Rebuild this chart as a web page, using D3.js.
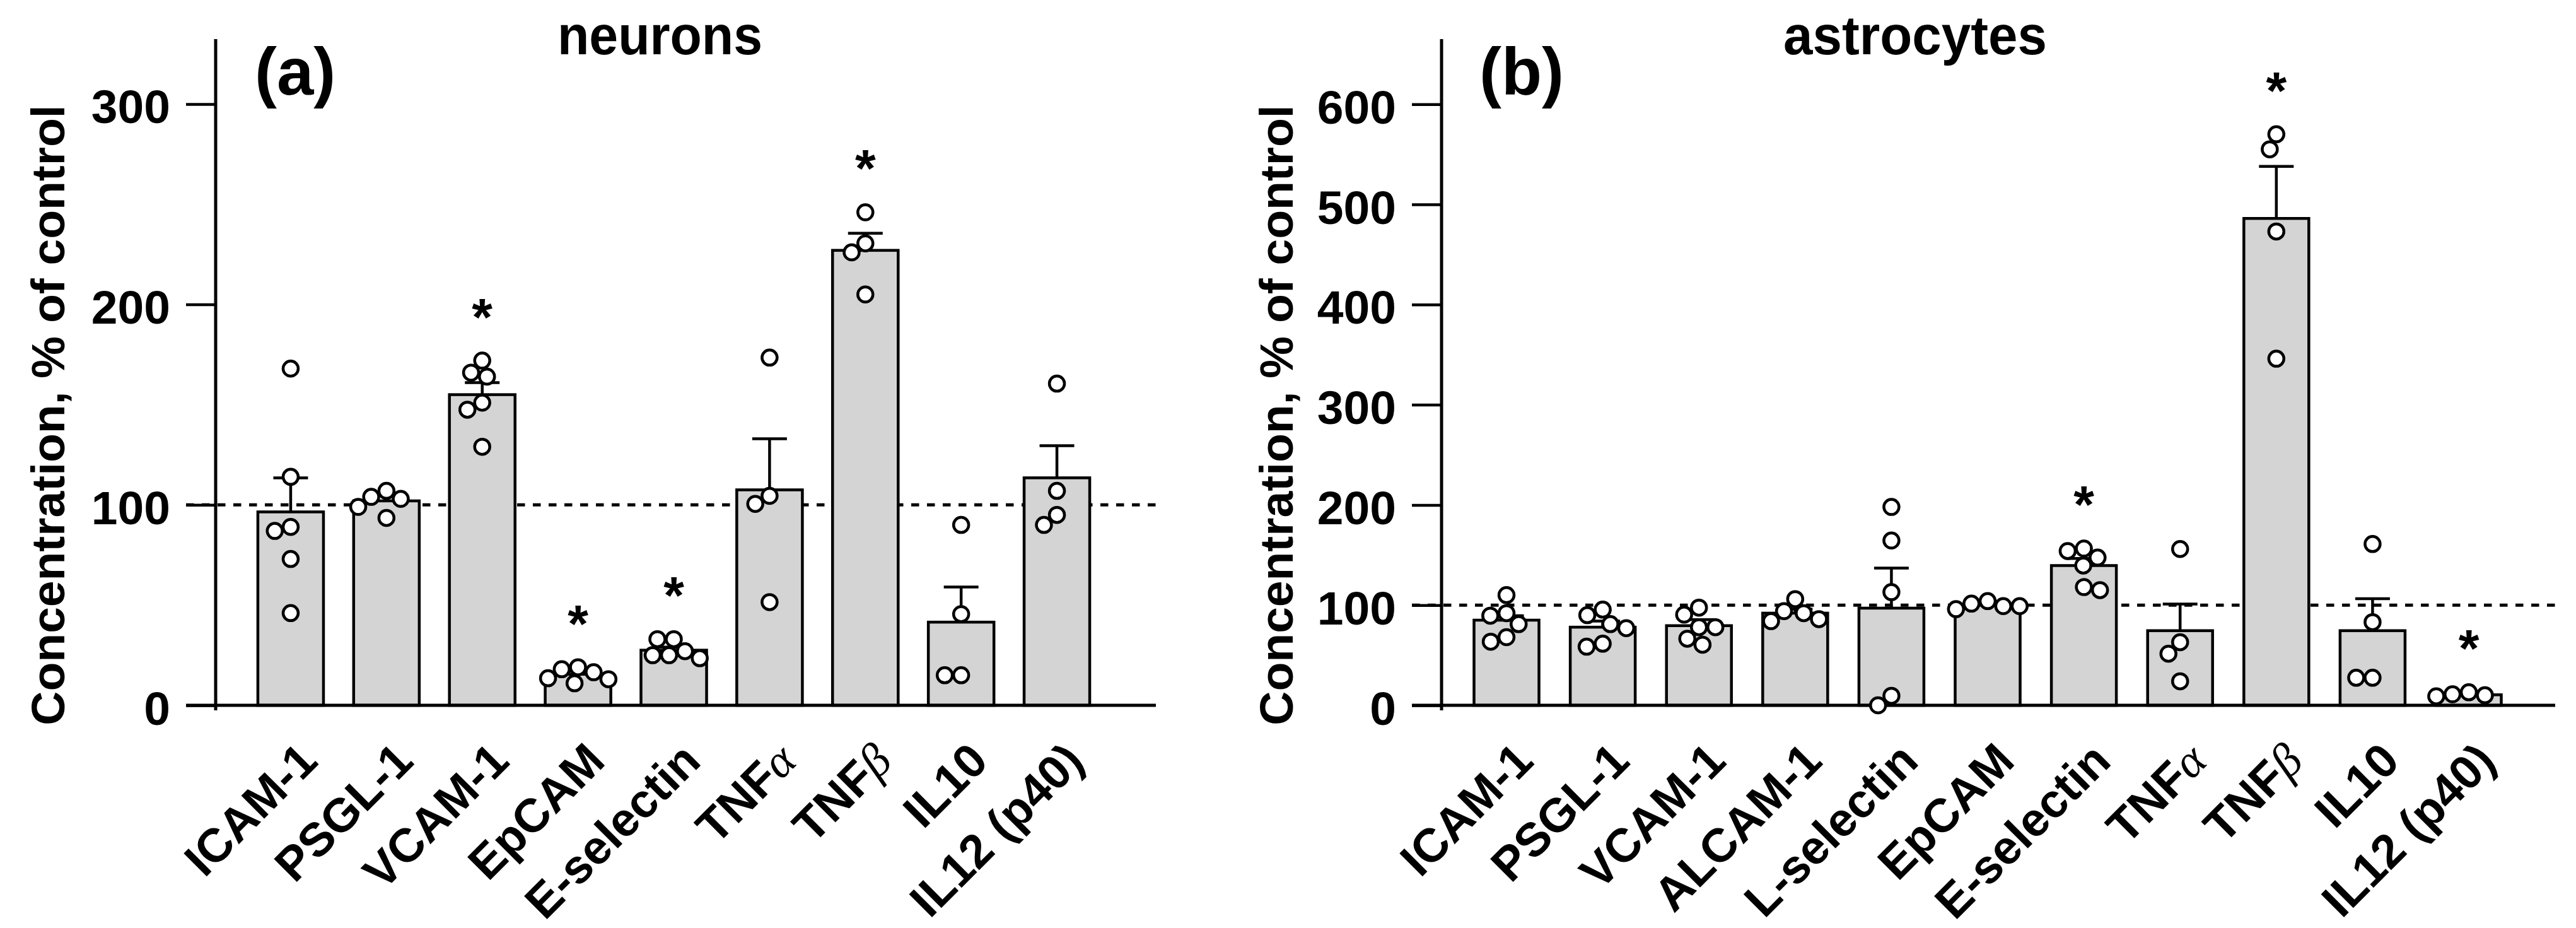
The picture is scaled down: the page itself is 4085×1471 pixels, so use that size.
<!DOCTYPE html>
<html>
<head>
<meta charset="utf-8">
<script src="https://cdn.jsdelivr.net/npm/d3@7"></script>
<style>
  html, body { margin: 0; padding: 0; background: #fff; }
  svg { display: block; }
</style>
</head>
<body>
<svg id="chart" width="4085" height="1471"></svg>
<script>
// ---------------- DATA ----------------
// (a) neurons
const neuronsCategories = ["ICAM-1", "PSGL-1", "VCAM-1", "EpCAM", "E-selectin", "TNFα", "TNFβ", "IL10", "IL12 (p40)"];
const neuronsMeans = [96.5, 102, 155, 15.5, 27.5, 107.5, 227, 41.5, 113.5];
const neuronsSEM = [17, 2.5, 6, 1.5, 1.5, 25.5, 8.5, 17.5, 16];
const neuronsPoints = [
  [168, 114, 89, 87, 73, 46],
  [99, 104, 107, 103, 93.5],
  [172, 166, 164, 151, 147.5, 129],
  [18, 19, 16.5, 13, 13.5, 11],
  [33, 33, 25, 25, 23.5, 27],
  [173.5, 104.5, 100.5, 51.5],
  [246, 230.5, 226, 205],
  [90, 45.5, 15, 15],
  [160.5, 107, 95, 90]
];
const neuronsSignificant = [false, false, true, true, true, false, true, false, false];
const neuronsTicks = [0, 100, 200, 300];

// (b) astrocytes
const astroCategories = ["ICAM-1", "PSGL-1", "VCAM-1", "ALCAM-1", "L-selectin", "EpCAM", "E-selectin", "TNFα", "TNFβ", "IL10", "IL12 (p40)"];
const astroMeans = [85, 78, 79.5, 92, 97, 100, 139.5, 74.5, 486, 74.5, 10.5];
const astroSEM = [4.5, 6, 6, 4, 40, 1.5, 7, 26.5, 52, 32, 1.2];
const astroPoints = [
  [110, 92, 89.5, 81, 68, 63.5],
  [95.5, 90, 81, 77, 61.5, 58.5],
  [97.5, 90.5, 78, 78, 66.5, 60.5],
  [106, 94, 92, 86, 84],
  [198, 164.5, 113, 9.5, 0],
  [104, 101.5, 99, 99, 96],
  [156.5, 154, 147.5, 139.5, 118, 115],
  [156, 63, 51.5, 24],
  [570, 555, 473, 346],
  [161, 83, 27.5, 27.5],
  [13, 11, 10, 9]
];
const astroSignificant = [false, false, false, false, false, false, true, false, true, false, true];
const astroTicks = [0, 100, 200, 300, 400, 500, 600];

const referenceLevel = 100;
const yTitle = "Concentration, % of control";

// ---------------- LAYOUT ----------------
const FONT = "'Liberation Sans', Arial, Helvetica, sans-serif";
const GREEK_FONT = "'Liberation Serif', 'DejaVu Serif', 'Times New Roman', serif";
const panels = [
  { letter: "(a)", title: "neurons", cats: neuronsCategories, means: neuronsMeans, sem: neuronsSEM,
    points: neuronsPoints, sig: neuronsSignificant, ticks: neuronsTicks,
    axisX: 342, axisEnd: 1833, yTop: 62, yZero: 1118, yMax: 332.4,
    band: [385, 1752], padIn: 0.315, padOut: 0.1575,
    letterX: 404, titleX: 884, titleLen: 325, yTitleX: 102 },
  { letter: "(b)", title: "astrocytes", cats: astroCategories, means: astroMeans, sem: astroSEM,
    points: astroPoints, sig: astroSignificant, ticks: astroTicks,
    axisX: 2286, axisEnd: 4052, yTop: 62, yZero: 1118, yMax: 665,
    band: [2312.7, 3991.3], padIn: 0.325, padOut: 0.1625,
    letterX: 2346, titleX: 2828, titleLen: 418, yTitleX: 2050 }
];

const svg = d3.select("#chart");
const R = 12, MIN_D = 26, TICK = 47;

// simple beeswarm: offsets closest to centre without overlap
function swarm(values, y) {
  const order = values.map((v, i) => i).sort((a, b) => values[b] - values[a]);
  const placed = [];
  const off = new Array(values.length).fill(0);
  let lastSign = 1;
  order.forEach(i => {
    const py = y(values[i]);
    const ints = [];
    placed.forEach(p => {
      const dy = Math.abs(p.y - py);
      if (dy < MIN_D) {
        const h = Math.sqrt(MIN_D * MIN_D - dy * dy);
        ints.push([p.x - h, p.x + h]);
      }
    });
    let cands = [0];
    ints.forEach(iv => { cands.push(iv[0], iv[1]); });
    cands = cands.filter(c => ints.every(iv => c <= iv[0] + 1e-6 || c >= iv[1] - 1e-6));
    cands.sort((a, b) => {
      const d = Math.abs(a) - Math.abs(b);
      if (Math.abs(d) > 0.5) return d;
      return (Math.sign(b) === -lastSign) - (Math.sign(a) === -lastSign);
    });
    const cx = cands[0];
    if (Math.abs(cx) > 0.5) lastSign = Math.sign(cx);
    off[i] = cx;
    placed.push({ x: cx, y: py });
  });
  return off;
}

panels.forEach(cfg => {
  const g = svg.append("g");
  const x = d3.scaleBand().domain(cfg.cats).range(cfg.band)
    .paddingInner(cfg.padIn).paddingOuter(cfg.padOut);
  const y = d3.scaleLinear().domain([0, cfg.yMax]).range([cfg.yZero, cfg.yTop]);
  const bw = x.bandwidth();
  const cxOf = d => x(d) + bw / 2;

  // reference dashed line (under bars)
  g.append("line")
    .attr("x1", cfg.axisX - TICK).attr("x2", cfg.axisEnd)
    .attr("y1", y(referenceLevel)).attr("y2", y(referenceLevel))
    .attr("stroke", "#000").attr("stroke-width", 5)
    .attr("stroke-dasharray", "12.5,12.5");

  // bars
  g.selectAll("rect.bar").data(cfg.cats).join("rect")
    .attr("class", "bar")
    .attr("x", d => x(d))
    .attr("y", (d, i) => y(cfg.means[i]))
    .attr("width", bw)
    .attr("height", (d, i) => y(0) - y(cfg.means[i]))
    .attr("fill", "#d4d4d4").attr("stroke", "#000").attr("stroke-width", 4.5);

  // error bars (upper only)
  const eg = g.append("g").attr("stroke", "#000").attr("stroke-width", 4.5);
  cfg.cats.forEach((d, i) => {
    const top = y(cfg.means[i] + cfg.sem[i]);
    eg.append("line").attr("x1", cxOf(d)).attr("x2", cxOf(d))
      .attr("y1", y(cfg.means[i])).attr("y2", top);
    eg.append("line").attr("x1", cxOf(d) - 27.5).attr("x2", cxOf(d) + 27.5)
      .attr("y1", top).attr("y2", top);
  });

  // axes lines
  g.append("line").attr("x1", cfg.axisX - TICK).attr("x2", cfg.axisEnd)
    .attr("y1", y(0)).attr("y2", y(0))
    .attr("stroke", "#000").attr("stroke-width", 5);
  g.append("line").attr("x1", cfg.axisX).attr("x2", cfg.axisX)
    .attr("y1", cfg.yTop).attr("y2", cfg.yZero + 8)
    .attr("stroke", "#000").attr("stroke-width", 5);

  // y axis ticks & labels
  const ya = g.append("g").attr("transform", `translate(${cfg.axisX},0)`)
    .call(d3.axisLeft(y).tickValues(cfg.ticks).tickSize(TICK).tickPadding(25).tickFormat(d3.format("d")));
  ya.select(".domain").remove();
  ya.attr("font-size", 75).attr("font-family", FONT).attr("font-weight", "bold");
  ya.selectAll(".tick line").attr("stroke", "#000").attr("stroke-width", 4.5);
  ya.selectAll(".tick text").attr("fill", "#000").attr("dy", "0.4em");

  // x axis labels (rotated)
  const xa = g.append("g").attr("transform", `translate(0,${y(0)})`)
    .call(d3.axisBottom(x).tickSize(0));
  xa.select(".domain").remove();
  xa.attr("font-size", 75).attr("font-family", FONT).attr("font-weight", "bold");
  xa.selectAll(".tick text").each(function (d) {
    const t = d3.select(this);
    t.text(null).attr("x", 0).attr("y", 0).attr("dy", null)
      .attr("fill", "#000")
      .attr("text-anchor", "end")
      .attr("transform", "translate(46,92) rotate(-45)");
    d.split(/([αβ])/).filter(s => s.length).forEach(s => {
      const sp = t.append("tspan").text(s);
      if (/[αβ]/.test(s)) sp.attr("font-family", GREEK_FONT).attr("font-weight", "normal").attr("font-style", "italic");
    });
  });

  // data points
  const pg = g.append("g");
  cfg.cats.forEach((d, i) => {
    const vals = cfg.points[i];
    const offs = swarm(vals, y);
    pg.selectAll(null).data(vals).join("circle")
      .attr("cx", (v, k) => cxOf(d) + offs[k])
      .attr("cy", v => y(v))
      .attr("r", R)
      .attr("fill", "#fff").attr("stroke", "#000").attr("stroke-width", 4.5);
  });

  // significance asterisks
  g.selectAll("text.sig").data(cfg.cats.filter((d, i) => cfg.sig[i])).join("text")
    .attr("class", "sig")
    .attr("x", d => cxOf(d))
    .attr("y", d => {
      const i = cfg.cats.indexOf(d);
      return y(d3.max(cfg.points[i])) - 88 + 48;
    })
    .attr("text-anchor", "middle")
    .attr("font-family", FONT).attr("font-weight", "bold").attr("font-size", 84)
    .text("*");

  // panel letter
  g.append("text").attr("x", cfg.letterX).attr("y", 150)
    .attr("font-family", FONT).attr("font-weight", "bold").attr("font-size", 105)
    .text(cfg.letter);

  // panel title
  g.append("text").attr("x", cfg.titleX).attr("y", 86)
    .attr("font-family", FONT).attr("font-weight", "bold").attr("font-size", 88)
    .attr("textLength", cfg.titleLen).attr("lengthAdjust", "spacingAndGlyphs")
    .text(cfg.title);

  // y axis title
  g.append("text")
    .attr("transform", `translate(${cfg.yTitleX},658) rotate(-90)`)
    .attr("text-anchor", "middle")
    .attr("font-family", FONT).attr("font-weight", "bold").attr("font-size", 75)
    .text(yTitle);
});
</script>
</body>
</html>
